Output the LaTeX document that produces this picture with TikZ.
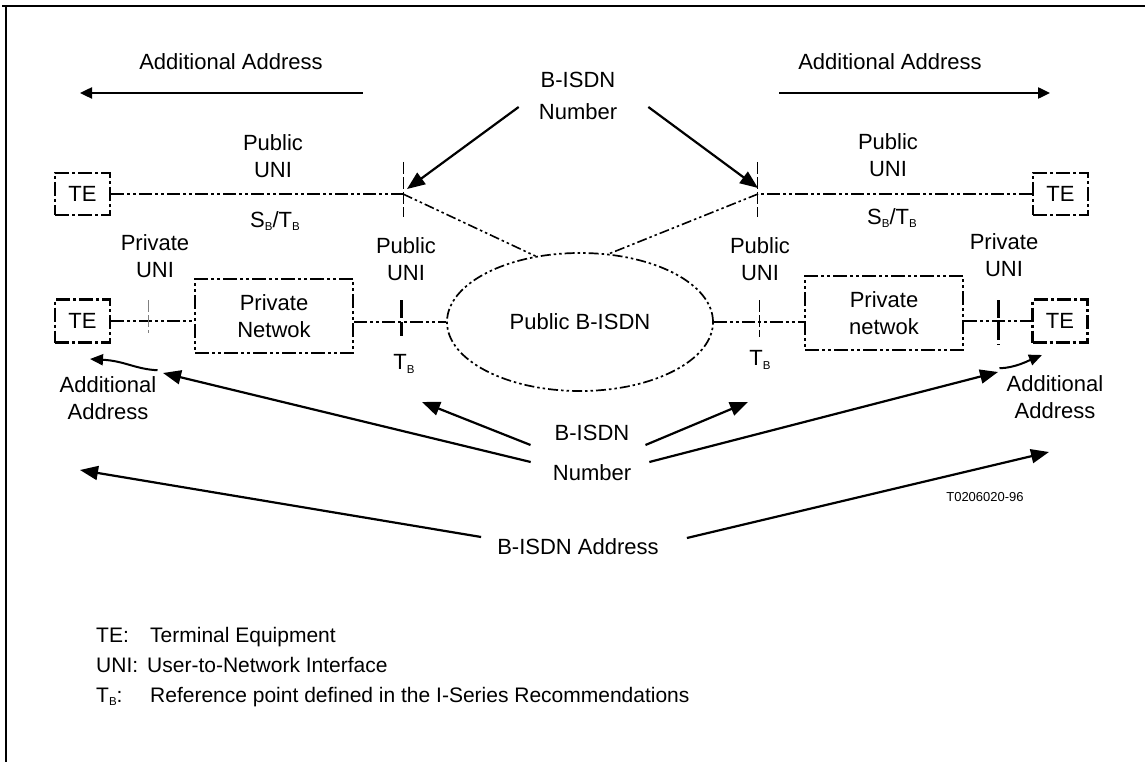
\documentclass[tikz,border=0pt]{standalone}
\usepackage{fontspec}
\setmainfont{Liberation Sans}
\usetikzlibrary{arrows.meta,shapes.geometric,calc}
\newcommand{\subB}{\raisebox{-0.3ex}{\fontsize{11.5}{12}\selectfont B}}
\begin{document}
\begin{tikzpicture}[x=1pt,y=-1pt,
  every node/.style={font=\fontsize{22}{27}\selectfont, inner sep=0pt, align=center},
  ddline/.style={line width=2.4pt, dash pattern=on 13pt off 3pt on 3pt off 3pt on 3pt off 3pt},
  thinddline/.style={line width=1.6pt, dash pattern=on 10pt off 3pt on 2.5pt off 3pt on 2.5pt off 3pt},
  tebox/.style={draw, line width=2.8pt, dash pattern=on 14pt off 3pt on 3pt off 3pt, minimum width=55pt, minimum height=42pt},
  netbox/.style={draw, line width=2.4pt, dash pattern=on 14pt off 3pt on 3pt off 3pt on 3pt off 3pt, minimum width=158pt, minimum height=74pt},
  cloud/.style={ellipse, draw, line width=1.7pt, dash pattern=on 10pt off 3pt on 2.5pt off 3pt on 2.5pt off 3pt, minimum width=266pt, minimum height=138pt},
  arr/.style={line width=2.2pt, -{Triangle[length=18pt,width=14pt]}},
  sarr/.style={line width=2.4pt, -{Triangle[length=12pt,width=11pt]}},
  carr/.style={line width=2pt, -{Triangle[length=13pt,width=11pt]}},
  tick/.style={line width=0.9pt, dash pattern=on 12pt off 3pt},
  ttick/.style={line width=3pt, dash pattern=on 18pt off 4pt},
  legend/.style={font=\fontsize{21}{24}\selectfont, anchor=base west}
]
\useasboundingbox (0,0) rectangle (1145,762);
\draw[line width=2pt] (2,6) -- (1145,6);
\draw[line width=2pt] (6,6) -- (6,762);

% top additional address
\node (aaL) at (231,62) {Additional Address};
\node (aaR) at (890,62) {Additional Address};
\coordinate (aaLtip) at (80,93);
\coordinate (aaRtip) at (1050,93);
\draw[sarr] ($(aaL.east)+(40,31)$) -- (aaLtip);
\draw[sarr] ($(aaR.west)+(-19,31)$) -- (aaRtip);

% top B-ISDN number
\node (bisdnT) at (578,80) {B-ISDN};
\node (numberT) at (578,112) {Number};
\coordinate (tipTL) at (407,189);
\coordinate (tipTR) at (758,188);
\draw[arr] ($(numberT.west)+(-20,-5)$) -- (tipTL);
\draw[arr] ($(numberT.east)+(31,-5)$) -- (tipTR);

% boxes
\node[tebox] (teTL) at (82.5,194) {TE};
\node[tebox] (teTR) at (1060.5,194) {TE};
\node[tebox, minimum height=43pt] (teBL) at (82.5,321) {TE};
\node[tebox, minimum height=43pt] (teBR) at (1060,321) {TE};
\node[netbox] (pnL) at (274,316) {Private\\Netwok};
\node[netbox] (pnR) at (884,313) {Private\\netwok};
\node[cloud] (cloud) at (580,322) {Public B-ISDN};

% top connections
\coordinate (tickTL) at (403,194);
\coordinate (tickTR) at (758,194);
\draw[ddline] (teTL.east) -- (tickTL);
\draw[thinddline] (tickTL) -- (cloud.124);
\draw[ddline] (teTR.west) -- (tickTR);
\draw[thinddline] (tickTR) -- (cloud.67);
\draw[tick] (403,162) -- (403,217);
\draw[tick] (757,162) -- (757,217);

% bottom connections
\draw[ddline] (teBL.east) -- (teBL.east -| pnL.west);
\draw[ddline] (pnL.east |- cloud.west) -- (cloud.west);
\draw[ddline] (cloud.east) -- (cloud.east -| pnR.west);
\draw[ddline] (pnR.east |- teBR.west) -- (teBR.west);
\draw[tick, gray] (148,300) -- (148,333);
\draw[ttick] (401,300) -- (401,336);
\draw[tick] (759,300) -- (759,337);
\draw[ttick] (998,300) -- (998,345);

% labels
\node (pubTL) at (273,156) {Public\\UNI};
\node (sbtbL) at (275,221) {S\subB/T\subB};
\node (pubTR) at (888,155) {Public\\UNI};
\node (sbtbR) at (892,218) {S\subB/T\subB};
\node (privL) at (155,256) {Private\\UNI};
\node (pubML) at (406,259) {Public\\UNI};
\node (pubMR) at (760,259) {Public\\UNI};
\node (privR) at (1004,255) {Private\\UNI};
\node (tbL) at (404,364) {T\subB};
\node (tbR) at (760,360) {T\subB};
\node (addlL) at (108,398) {Additional\\Address};
\node (addlR) at (1055,397) {Additional\\Address};

% curved arrows to TE
\coordinate (tG) at (90,359);
\coordinate (tH) at (1042,355);
\draw[carr] ($(addlL.north east)+(1,-6)$) .. controls +(-22,-1) and +(35,2) .. (tG);
\draw[carr] ($(addlR.north west)+(-7,-7)$) .. controls +(15,0) and +(-12,5) .. (tH);

% lower B-ISDN number
\node (bisdnL) at (592,433) {B-ISDN};
\node (numberL) at (592,473) {Number};
\coordinate (tA) at (422,402);
\coordinate (tB) at (748,402);
\coordinate (tC) at (163,373);
\coordinate (tD) at (998,372);
\draw[arr] ($(bisdnL.west)+(-24,12)$) -- (tA);
\draw[arr] ($(bisdnL.east)+(16,12)$) -- (tB);
\draw[arr] ($(numberL.west)+(-22,-11)$) -- (tC);
\draw[arr] ($(numberL.east)+(18,-11)$) -- (tD);

% B-ISDN address
\node (addrB) at (578,547) {B-ISDN Address};
\coordinate (tE) at (80,470);
\coordinate (tF) at (1049,452);
\draw[arr] ($(addrB.west)+(-16,-10)$) -- (tE);
\draw[arr] ($(addrB.east)+(28,-9)$) -- (tF);

\node[font=\fontsize{13}{15}\selectfont] (fig) at (985,497) {T0206020-96};

% legend
\node[legend] (lTE) at (96,642) {TE:};
\node[legend] (lTEd) at (150,642) {Terminal Equipment};
\node[legend] (lUNI) at (96,672) {UNI:};
\node[legend] (lUNId) at (147,672) {User-to-Network Interface};
\node[legend] (lTB) at (96,702) {T\subB:};
\node[legend] (lTBd) at (150,702) {Reference point defined in the I-Series Recommendations};
\end{tikzpicture}
\end{document}
